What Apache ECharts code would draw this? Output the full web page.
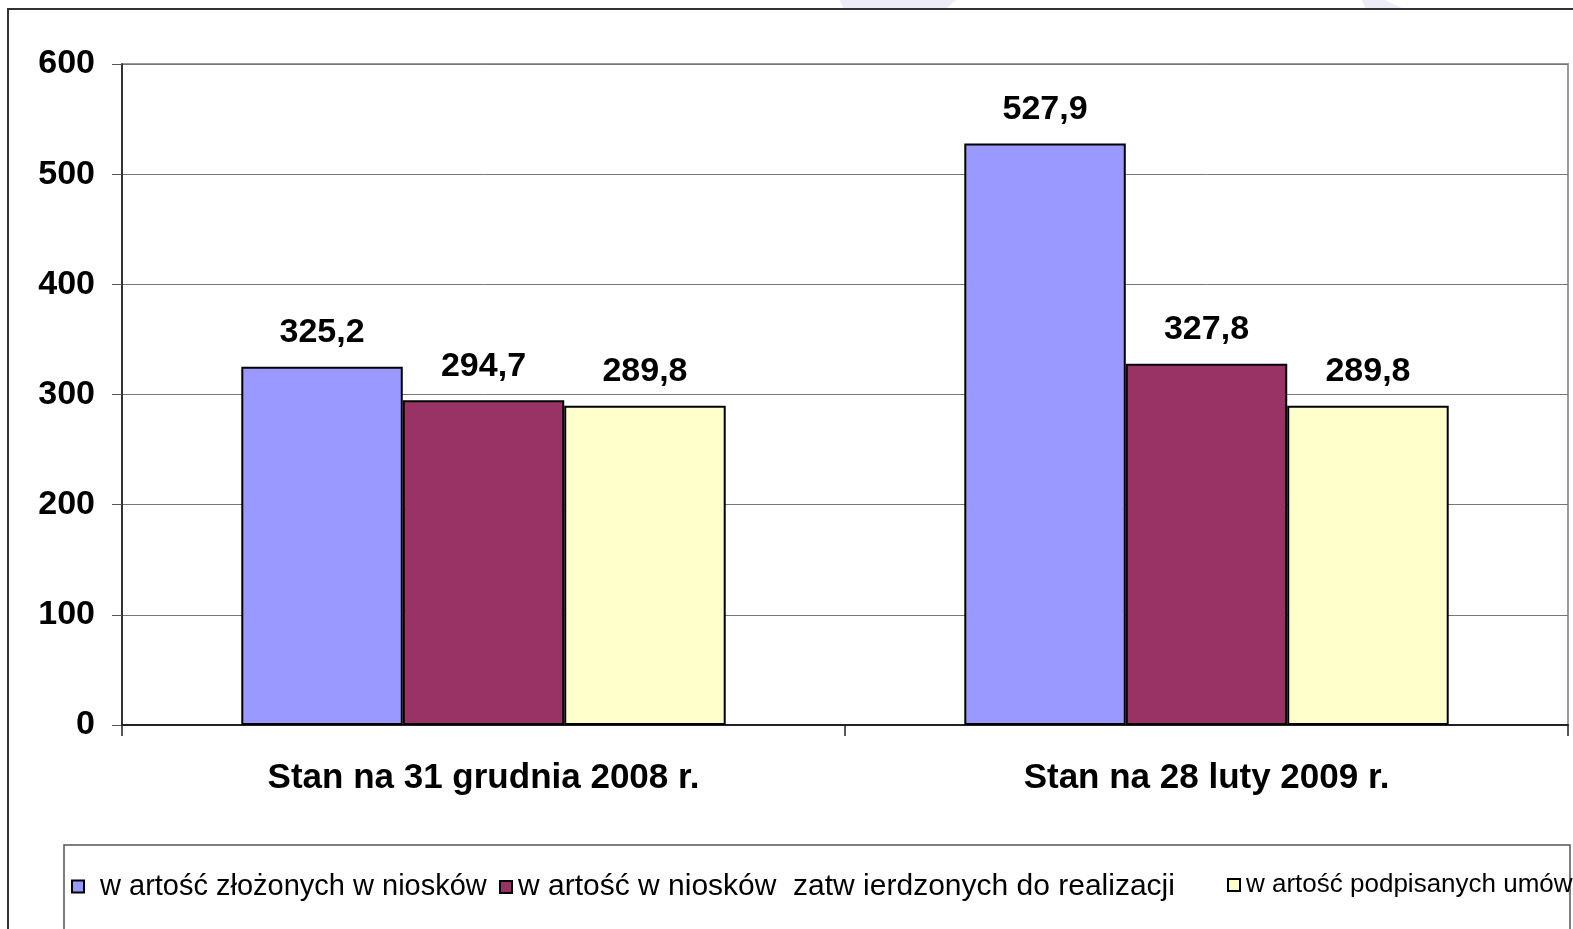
<!DOCTYPE html>
<html>
<head>
<meta charset="utf-8">
<script src="https://cdn.jsdelivr.net/npm/echarts@6/dist/echarts.min.js"></script>
<style>
html,body{margin:0;padding:0;background:#fff;}
#chart{width:1573px;height:929px;}
</style>
</head>
<body>
<div id="chart"></div>
<script>
var categories = ['Stan na 31 grudnia 2008 r.', 'Stan na 28 luty 2009 r.'];
var seriesNames = ['w artość złożonych w niosków', 'w artość w niosków  zatw ierdzonych do realizacji', 'w artość podpisanych umów'];
var zlozone = [325.2, 527.9];
var zatwierdzone = [294.7, 327.8];
var podpisane = [289.8, 289.8];
var colors = ['#9999FF', '#993366', '#FFFFCC'];

var FONT = '"Liberation Sans", Arial, sans-serif';
var chart = echarts.init(document.getElementById('chart'), null, {renderer: 'canvas'});

function fmt(p){ return String(p.value.toFixed(1)).replace('.', ','); }

function mkSeries(name, data, color){
  return {
    name: name, type: 'bar', data: data,
    barGap: '0%', barCategoryGap: '33%',
    itemStyle: {color: color, borderColor: '#000', borderWidth: 2},
    label: {show: true, position: 'top', distance: 17, formatter: fmt,
      fontFamily: FONT, fontWeight: 'bold', fontSize: 34, color: '#000'},
    emphasis: {disabled: true},
    animation: false
  };
}

function mkLegend(i, left, size, padLeft){
  return {
    data: [seriesNames[i]], left: left, top: 872, icon: 'rect',
    itemWidth: 12, itemHeight: 12, itemGap: 0, padding: 0,
    itemStyle: {borderColor: '#000', borderWidth: 2},
    textStyle: {fontFamily: FONT, fontSize: size, color: '#000', padding: [0,0,0,padLeft]},
    selectedMode: false
  };
}

chart.setOption({
  backgroundColor: '#fff',
  animation: false,
  graphic: [
    {type: 'polygon', shape: {points: [[840,0],[956,0],[947,8],[843,8]]}, style: {fill: '#EEEDF7'}, z: 0},
    {type: 'polygon', shape: {points: [[1362,0],[1385,0],[1402,8],[1365,8]]}, style: {fill: '#EEEDF7'}, z: 0},
    {type: 'rect', shape: {x: 8, y: 9, width: 1600, height: 1000}, style: {fill: 'none', stroke: '#333', lineWidth: 2}, z: 1},
    {type: 'rect', shape: {x: 64, y: 845, width: 1506, height: 200}, style: {fill: 'none', stroke: '#555', lineWidth: 1.5}, z: 1}
  ],
  legend: [mkLegend(0, 71, 29, 11), mkLegend(1, 499, 30, 1), mkLegend(2, 1227, 26, 1)],
  grid: {left: 122, right: 5, top: 64, bottom: 204, show: true, borderColor: '#999', borderWidth: 2, backgroundColor: 'transparent'},
  xAxis: {
    type: 'category', data: categories,
    axisLine: {lineStyle: {color: '#222', width: 2}},
    axisTick: {show: true, length: 11, lineStyle: {color: '#222', width: 1.5}},
    axisLabel: {margin: 36, fontFamily: FONT, fontWeight: 'bold', fontSize: 35, color: '#000'}
  },
  yAxis: {
    type: 'value', min: 0, max: 600, interval: 100,
    axisLine: {show: true, lineStyle: {color: '#111', width: 1.5}},
    axisTick: {show: true, length: 10, lineStyle: {color: '#555', width: 1}},
    splitLine: {lineStyle: {color: '#777', width: 1}},
    axisLabel: {margin: 27, fontFamily: FONT, fontWeight: 'bold', fontSize: 34, color: '#000'}
  },
  series: [
    mkSeries(seriesNames[0], zlozone, colors[0]),
    mkSeries(seriesNames[1], zatwierdzone, colors[1]),
    mkSeries(seriesNames[2], podpisane, colors[2])
  ]
});
</script>
</body>
</html>
